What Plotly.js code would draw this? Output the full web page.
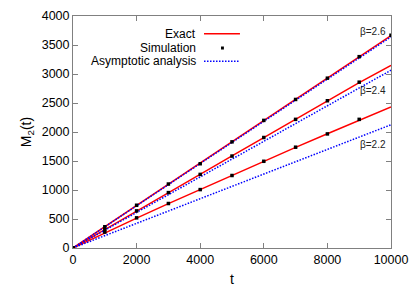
<!DOCTYPE html>
<html>
<head>
<meta charset="utf-8">
<script src="https://cdn.plot.ly/plotly-3.0.1.min.js"></script>
<style>html,body{margin:0;padding:0;background:#fff}#chart{width:415px;height:291px}</style>
</head>
<body>
<div id="chart"></div>
<script>
// ---- data ----
const tExact = [0,1000,2000,3000,4000,5000,6000,7000,8000,9000,10000];
const exact26 = [0,366,733,1099,1465,1832,2198,2564,2930,3297,3663];
const exact24 = [0,320,638,955,1272,1588,1904,2220,2535,2850,3150];
const exact22 = [0,262,516,765,1010,1250,1490,1735,1970,2205,2430];

const tAsym = [0,10000];
const asym26 = [0,3640];
const asym24 = [0,3065];
const asym22 = [0,2125];

const tSim26 = [0,1000,2000,3000,4000,5000,6000,7000,8000,9000,10000];
const sim26 = [0,366,737,1103,1453,1830,2200,2561,2928,3299,3666];
const tSim = [0,1000,2000,3000,4000,5000,6000,7000,8000,9000];
const sim24 = [0,320,640,955,1269,1585,1905,2218,2539,2859];
const sim22 = [0,274,520,767,1007,1250,1495,1738,1967,2218];

const betaLabels = ["β=2.6","β=2.4","β=2.2"];
const legendLabels = ["Exact","Simulation","Asymptotic analysis"];
const xTicks = [0,2000,4000,6000,8000,10000];
const yTicks = [0,500,1000,1500,2000,2500,3000,3500,4000];

const RED = 'rgb(255,0,0)', BLUE = 'rgb(0,0,255)';
const FONT = 'Liberation Sans, Arial, sans-serif';
const DOT = '1.5px,1.5px';

const lineTrace = (x,y,color,dash) => ({x:x,y:y,mode:'lines',type:'scatter',
  line:{color:color,width:1.5,dash:dash},showlegend:false,hoverinfo:'skip'});
const simTrace = (x,y) => ({x:x,y:y,mode:'markers',type:'scatter',
  marker:{symbol:'square',size:3.5,color:'black'},showlegend:false,hoverinfo:'skip'});

const traces = [
  lineTrace(tExact,exact22,RED,'solid'),
  lineTrace(tExact,exact24,RED,'solid'),
  lineTrace(tExact,exact26,RED,'solid'),
  lineTrace(tAsym,asym22,BLUE,DOT),
  lineTrace(tAsym,asym24,BLUE,DOT),
  lineTrace(tAsym,asym26,BLUE,DOT),
  simTrace(tSim,sim22),
  simTrace(tSim,sim24),
  simTrace(tSim26,sim26)
];

const legY = [0.924,0.862,0.805];
const annotations = legendLabels.map((s,i)=>({xref:'paper',yref:'paper',x:0.392,y:legY[i],
  text:s,showarrow:false,xanchor:'right',yanchor:'middle',font:{size:12,color:'black',family:FONT}}));
const betaY = [0.935,0.678,0.446];
betaLabels.forEach((s,i)=>annotations.push({xref:'paper',yref:'paper',x:0.99,y:betaY[i],
  text:s,showarrow:false,xanchor:'right',yanchor:'middle',font:{size:10,color:'#222',family:FONT}}));

const shapes = [
  {type:'line',xref:'paper',yref:'paper',x0:0.412,x1:0.525,y0:legY[0],y1:legY[0],line:{color:RED,width:1.5}},
  {type:'line',xref:'paper',yref:'paper',x0:0.412,x1:0.525,y0:legY[2],y1:legY[2],line:{color:BLUE,width:1.5,dash:DOT}},
  {type:'rect',xref:'paper',yref:'paper',x0:0.4655,x1:0.4745,y0:legY[1]-0.0065,y1:legY[1]+0.0065,
    line:{width:0},fillcolor:'black'}
];

const axisCommon = {showgrid:false,zeroline:false,showline:true,mirror:'ticks',ticks:'inside',
  ticklen:5,tickwidth:1,linecolor:'#808080',tickcolor:'#808080',linewidth:1,
  tickfont:{size:12.5,color:'black',family:FONT},automargin:false};

const layout = {
  width:415,height:291,
  margin:{l:73,r:24,t:16,b:43},
  paper_bgcolor:'white',plot_bgcolor:'white',
  font:{family:FONT,color:'black'},
  xaxis:Object.assign({},axisCommon,{range:[0,10000],tickvals:xTicks,ticktext:xTicks.map(String),
    title:{text:'t',font:{size:14,family:FONT},standoff:8}}),
  yaxis:Object.assign({},axisCommon,{range:[0,4000],tickvals:yTicks,ticktext:yTicks.map(String),
    title:{text:'M<sub>2</sub>(t)',font:{size:14,family:FONT},standoff:6}}),
  annotations:annotations,
  shapes:shapes,
  showlegend:false
};

Plotly.newPlot('chart',traces,layout,{staticPlot:true,displayModeBar:false});
</script>
</body>
</html>
